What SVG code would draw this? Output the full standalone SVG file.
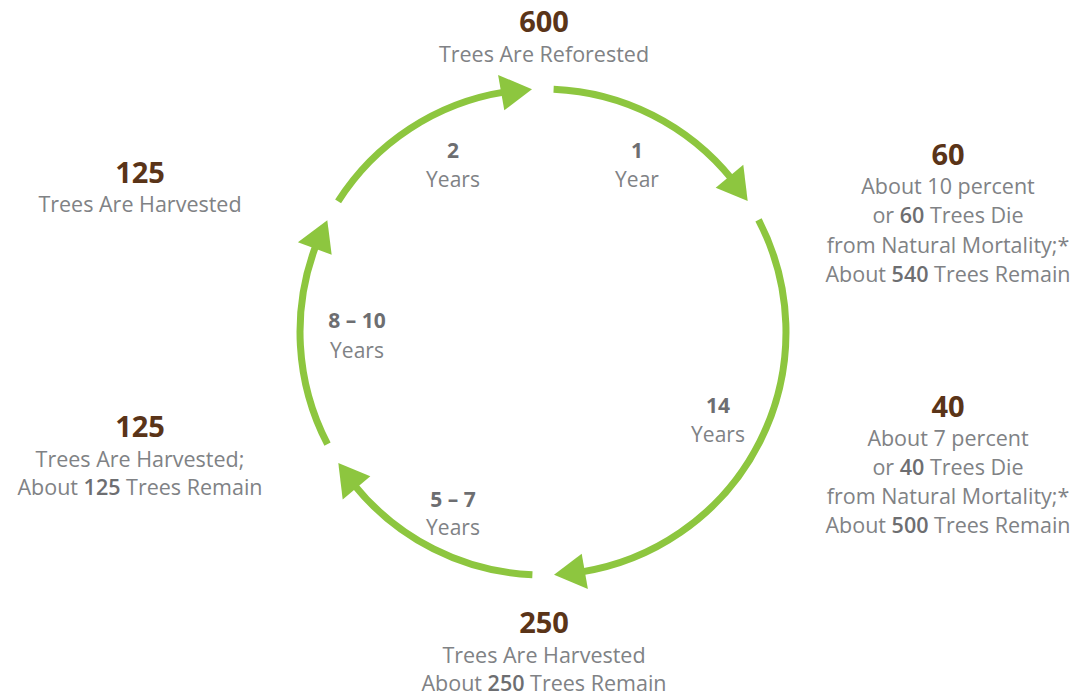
<svg xmlns="http://www.w3.org/2000/svg" width="1087" height="696" viewBox="0 0 1087 696">
<style>
text{font-family:"Open Sans","Liberation Sans",sans-serif;text-anchor:middle}
.num{font-size:29px;font-weight:700;fill:#5a3418}
.t{font-size:21.5px;fill:#808285}
.b{font-weight:600;fill:#6d6e71}
.lab{font-size:21px;fill:#808285}
.lb{font-size:21px;font-weight:700;fill:#6d6e71}
.arc{fill:none;stroke:#8dc63f;stroke-width:7}
.head{fill:#8dc63f}
</style>
<rect width="1087" height="696" fill="#ffffff"/>
<g id="connectors">
<path class="arc" d="M553.6 89.2 A243 243 0 0 1 732.1 179.4"/>
<polygon class="head" points="747.7,201.1 743.3,164.7 715.7,187.7"/>
<path class="arc" d="M758.5 219.8 A243 243 0 0 1 580.6 572.1"/>
<polygon class="head" points="554.0,574.7 587.9,589.1 581.7,553.7"/>
<path class="arc" d="M532.4 574.8 A243 243 0 0 1 353.9 484.6"/>
<polygon class="head" points="338.3,462.9 342.7,499.4 370.3,476.3"/>
<path class="arc" d="M327.5 444.2 A243 243 0 0 1 316.3 244.5"/>
<polygon class="head" points="327.3,220.2 297.9,242.3 331.7,254.7"/>
<path class="arc" d="M338.1 201.4 A243 243 0 0 1 505.4 91.9"/>
<polygon class="head" points="532.0,89.25 498.1,74.9 504.3,110.3"/>
<g id="label-1yr"><text class="lb" x="637" y="158">1</text><text class="lab" x="637" y="187">Year</text></g>
<g id="label-14yr"><text class="lb" x="718" y="413">14</text><text class="lab" x="718" y="442">Years</text></g>
<g id="label-5-7yr"><text class="lb" x="453" y="507">5 – 7</text><text class="lab" x="453" y="535">Years</text></g>
<g id="label-8-10yr"><text class="lb" x="357" y="328">8 – 10</text><text class="lab" x="357" y="358">Years</text></g>
<g id="label-2yr"><text class="lb" x="453" y="158">2</text><text class="lab" x="453" y="187">Years</text></g>
</g>
<g id="node-600">
<text class="num" x="544" y="32">600</text>
<text class="t" x="544" y="62">Trees Are Reforested</text>
</g>
<g id="node-60">
<text class="num" x="948" y="165">60</text>
<text class="t" x="948" y="194">About 10 percent</text>
<text class="t" x="948" y="223">or <tspan class="b">60</tspan> Trees Die</text>
<text class="t" x="948" y="253">from Natural Mortality;*</text>
<text class="t" x="948" y="282">About <tspan class="b">540</tspan> Trees Remain</text>
</g>
<g id="node-40">
<text class="num" x="948" y="417">40</text>
<text class="t" x="948" y="446">About 7 percent</text>
<text class="t" x="948" y="475">or <tspan class="b">40</tspan> Trees Die</text>
<text class="t" x="948" y="504">from Natural Mortality;*</text>
<text class="t" x="948" y="533">About <tspan class="b">500</tspan> Trees Remain</text>
</g>
<g id="node-250">
<text class="num" x="544" y="633">250</text>
<text class="t" x="544" y="663">Trees Are Harvested</text>
<text class="t" x="544" y="691">About <tspan class="b">250</tspan> Trees Remain</text>
</g>
<g id="node-125-lower">
<text class="num" x="140" y="437">125</text>
<text class="t" x="140" y="467">Trees Are Harvested;</text>
<text class="t" x="140" y="495">About <tspan class="b">125</tspan> Trees Remain</text>
</g>
<g id="node-125-upper">
<text class="num" x="140" y="183">125</text>
<text class="t" x="140" y="212">Trees Are Harvested</text>
</g>
</svg>
